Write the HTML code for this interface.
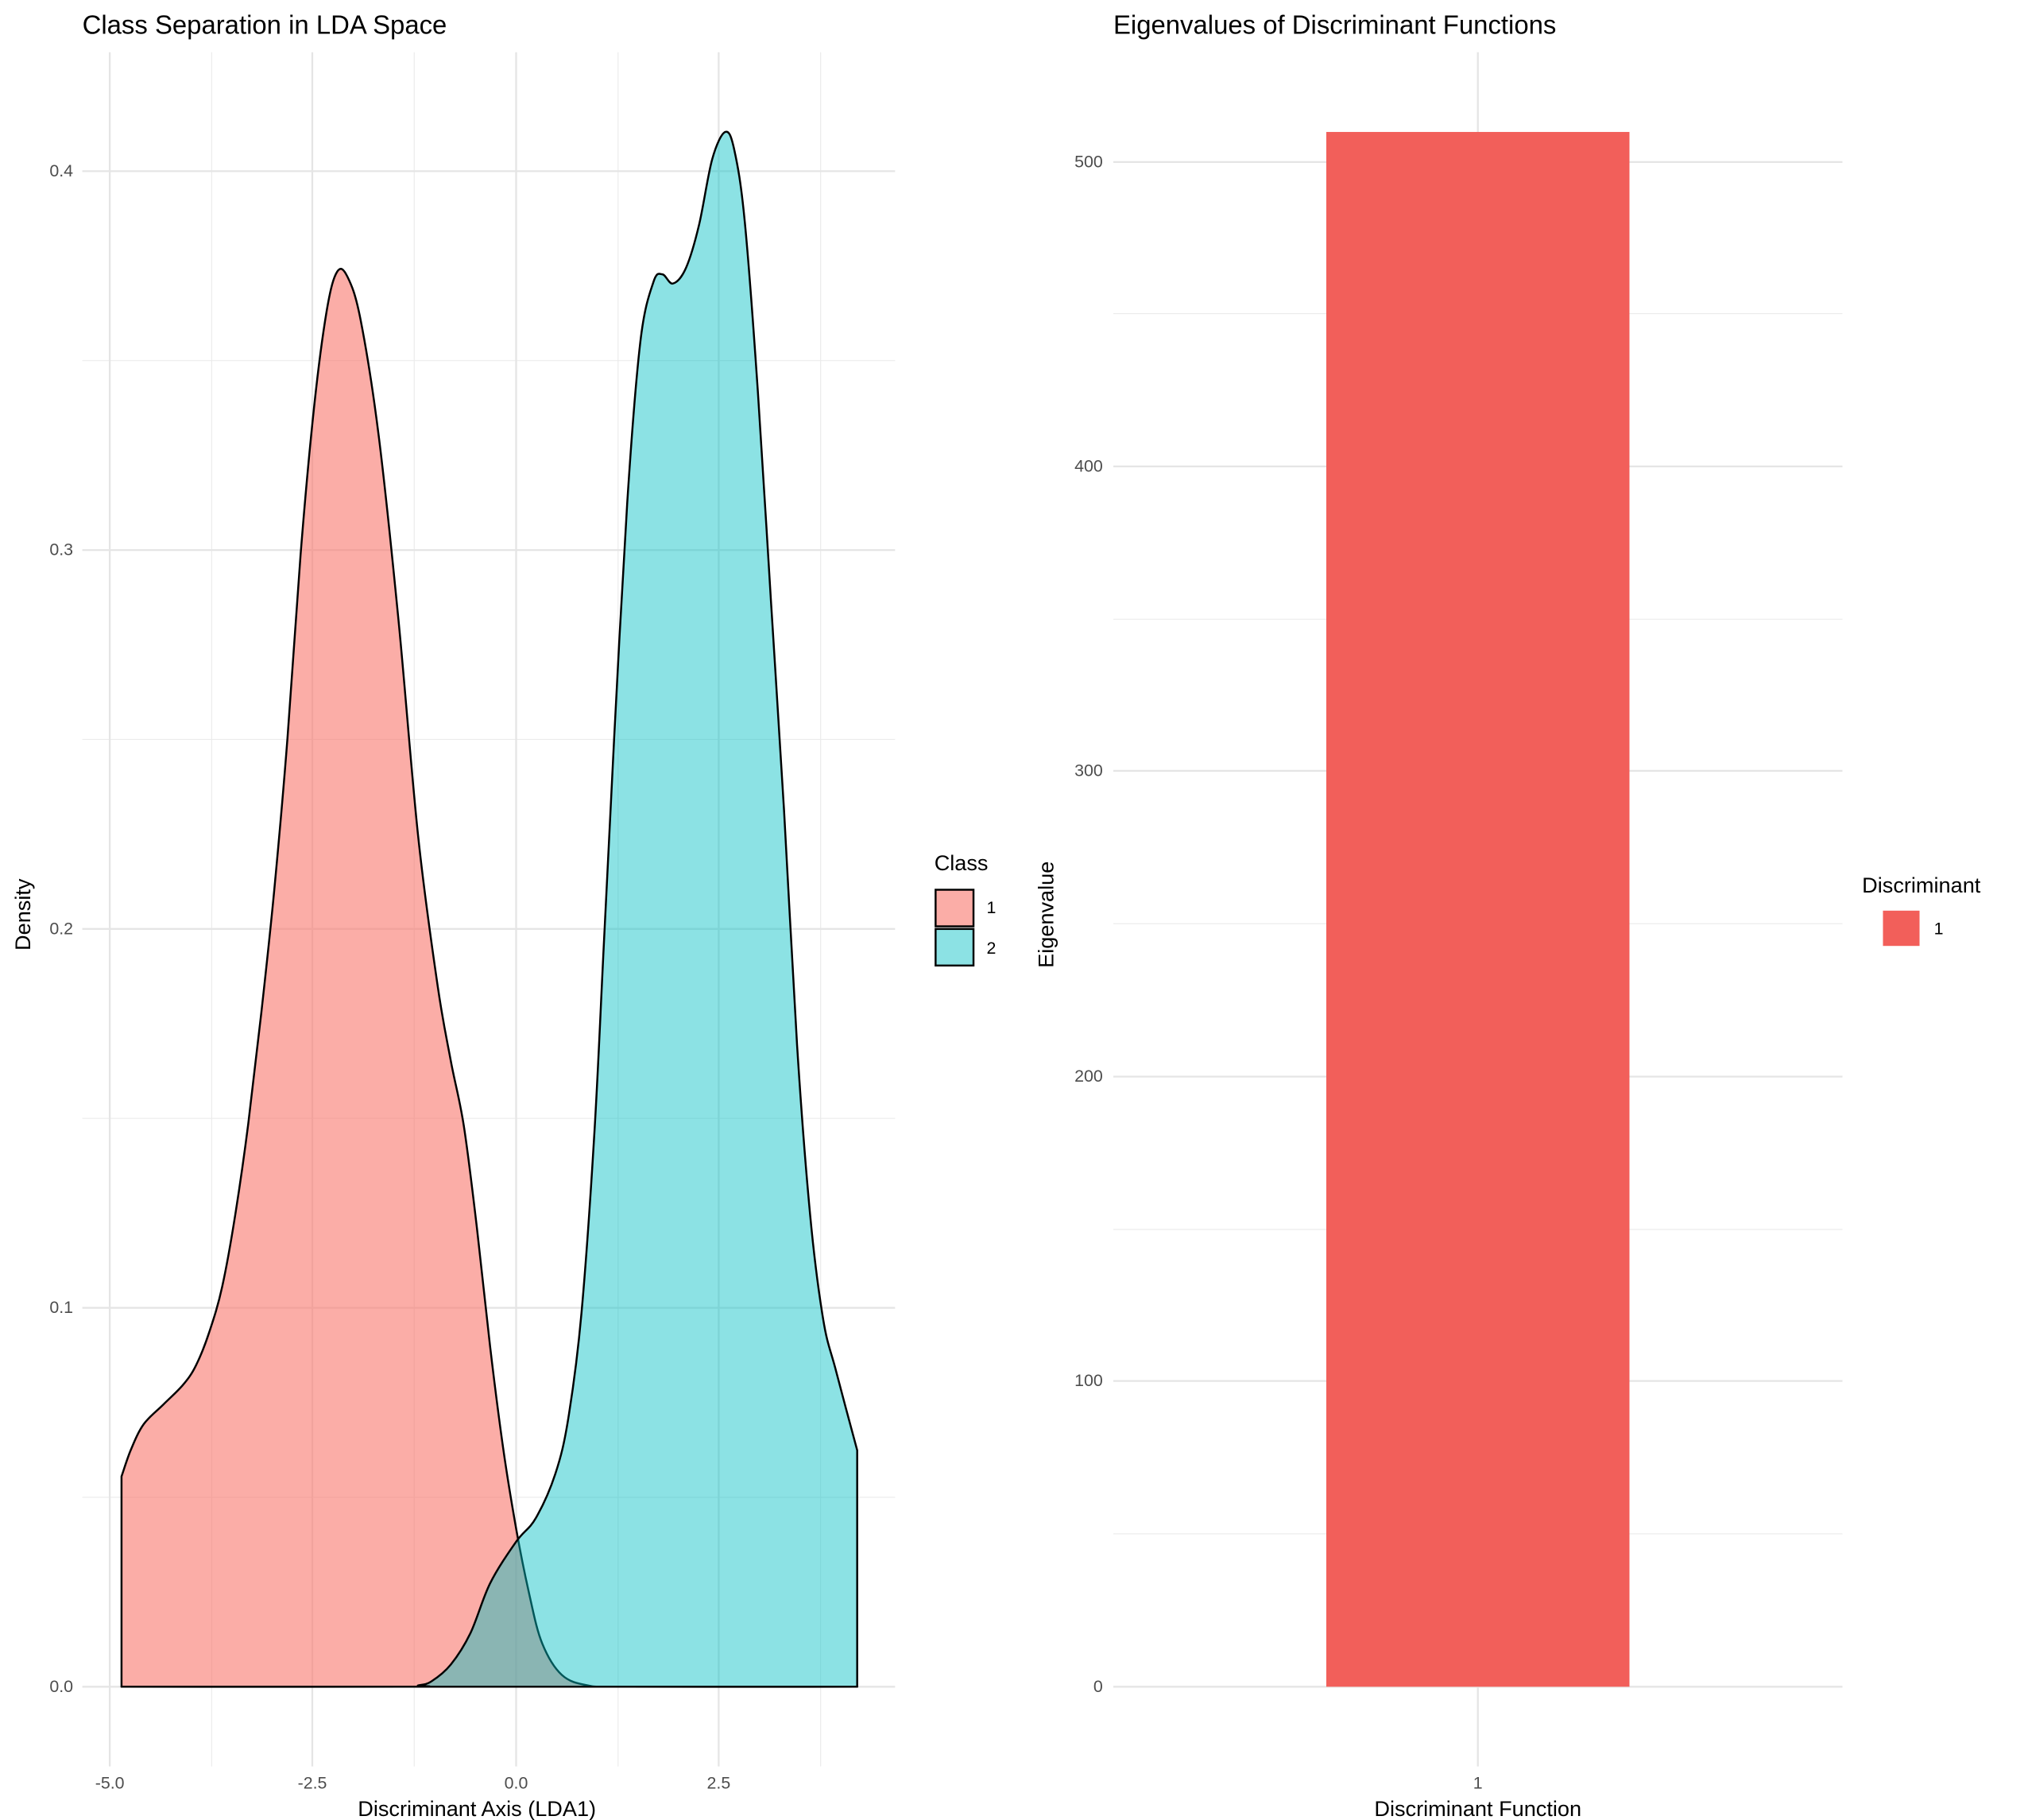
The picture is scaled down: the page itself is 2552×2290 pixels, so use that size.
<!DOCTYPE html>
<html><head><meta charset="utf-8"><style>
html,body{margin:0;padding:0;background:#fff}
svg{display:block}
text{font-family:"Liberation Sans",Arial,sans-serif}
</style></head><body>
<svg width="2552" height="2290" viewBox="0 0 1552 1393" preserveAspectRatio="none" xmlns="http://www.w3.org/2000/svg">
<rect width="1552" height="1393" fill="#fff"/>
<g stroke="#ebebeb" stroke-width="0.7">
<line x1="63" x2="685" y1="1146" y2="1146"/><line x1="63" x2="685" y1="856" y2="856"/>
<line x1="63" x2="685" y1="566" y2="566"/><line x1="63" x2="685" y1="276" y2="276"/>
<line x1="162" x2="162" y1="40" y2="1352"/><line x1="317" x2="317" y1="40" y2="1352"/>
<line x1="473" x2="473" y1="40" y2="1352"/><line x1="628" x2="628" y1="40" y2="1352"/>
</g>
<g stroke="#e5e5e5" stroke-width="1.4">
<line x1="63" x2="685" y1="1291" y2="1291"/><line x1="63" x2="685" y1="1001" y2="1001"/>
<line x1="63" x2="685" y1="711" y2="711"/><line x1="63" x2="685" y1="421" y2="421"/>
<line x1="63" x2="685" y1="131" y2="131"/>
<line x1="84" x2="84" y1="40" y2="1352"/><line x1="239" x2="239" y1="40" y2="1352"/>
<line x1="395" x2="395" y1="40" y2="1352"/><line x1="550" x2="550" y1="40" y2="1352"/>
</g>
<path id="c1" fill="#F8766D" fill-opacity="0.6" stroke="#000" stroke-width="1.5" stroke-linejoin="round" d=""/>
<path id="c2" fill="#00BFC4" fill-opacity="0.45" stroke="#000" stroke-width="1.5" stroke-linejoin="round" d=""/>
<g font-size="13" fill="#4d4d4d" text-anchor="end">
<text x="56" y="1295">0.0</text><text x="56" y="1005">0.1</text><text x="56" y="715">0.2</text><text x="56" y="425">0.3</text><text x="56" y="135">0.4</text>
</g>
<g font-size="13" fill="#4d4d4d" text-anchor="middle">
<text x="84" y="1369">-5.0</text><text x="239" y="1369">-2.5</text><text x="395" y="1369">0.0</text><text x="550" y="1369">2.5</text>
</g>
<text x="365" y="1390" font-size="16.5" text-anchor="middle" fill="#000">Discriminant Axis (LDA1)</text>
<text transform="translate(23,700) rotate(-90)" font-size="16.5" text-anchor="middle" fill="#000">Density</text>
<text x="63" y="26" font-size="20" fill="#000">Class Separation in LDA Space</text>
<text x="715" y="666" font-size="16.5" fill="#000">Class</text>
<rect x="716" y="681" width="29" height="28" fill="#F8766D" fill-opacity="0.6" stroke="#000" stroke-width="1.5"/>
<rect x="716" y="711" width="29" height="28" fill="#00BFC4" fill-opacity="0.45" stroke="#000" stroke-width="1.5"/>
<text x="755" y="699" font-size="13" fill="#000">1</text>
<text x="755" y="730" font-size="13" fill="#000">2</text>
<g stroke="#ebebeb" stroke-width="0.7">
<line x1="852" x2="1410" y1="1174" y2="1174"/><line x1="852" x2="1410" y1="941" y2="941"/>
<line x1="852" x2="1410" y1="707" y2="707"/><line x1="852" x2="1410" y1="474" y2="474"/>
<line x1="852" x2="1410" y1="240" y2="240"/>
</g>
<g stroke="#e5e5e5" stroke-width="1.4">
<line x1="852" x2="1410" y1="1291" y2="1291"/><line x1="852" x2="1410" y1="1057" y2="1057"/>
<line x1="852" x2="1410" y1="824" y2="824"/><line x1="852" x2="1410" y1="590" y2="590"/>
<line x1="852" x2="1410" y1="357" y2="357"/><line x1="852" x2="1410" y1="124" y2="124"/>
<line x1="1131" x2="1131" y1="40" y2="1352"/>
</g>
<rect x="1015" y="101" width="232" height="1190" fill="#F25F5A"/>
<g font-size="13" fill="#4d4d4d" text-anchor="end">
<text x="844" y="1295">0</text><text x="844" y="1061">100</text><text x="844" y="828">200</text><text x="844" y="594">300</text><text x="844" y="361">400</text><text x="844" y="128">500</text>
</g>
<text x="1131" y="1369" font-size="13" fill="#4d4d4d" text-anchor="middle">1</text>
<text x="1131" y="1390" font-size="16.5" text-anchor="middle" fill="#000">Discriminant Function</text>
<text transform="translate(806,700) rotate(-90)" font-size="16.5" text-anchor="middle" fill="#000">Eigenvalue</text>
<text x="852" y="26" font-size="20" fill="#000">Eigenvalues of Discriminant Functions</text>
<text x="1425" y="683" font-size="16.5" fill="#000">Discriminant</text>
<rect x="1441" y="697" width="28" height="27" fill="#F25F5A"/>
<text x="1480" y="715" font-size="13" fill="#000">1</text>
</svg>
<script>
function smooth(pts){
  var d="M"+pts[0][0]+","+pts[0][1];
  for(var i=0;i<pts.length-1;i++){
    var p0=pts[i-1]||pts[i],p1=pts[i],p2=pts[i+1],p3=pts[i+2]||p2;
    var c1x=p1[0]+(p2[0]-p0[0])/6,c1y=p1[1]+(p2[1]-p0[1])/6;
    var c2x=p2[0]-(p3[0]-p1[0])/6,c2y=p2[1]-(p3[1]-p1[1])/6;
    d+=" C"+c1x.toFixed(1)+","+c1y.toFixed(1)+" "+c2x.toFixed(1)+","+c2y.toFixed(1)+" "+p2[0]+","+p2[1];
  }
  return d;
}
var a=[[93,1130],[100,1110],[110,1090],[125,1075],[140,1060],[150,1045],[160,1020],[170,985],[180,930],[190,860],[200,775],[210,680],[220,565],[230,425],[240,315],[250,238],[258,208],[266,212],[276,245],[290,335],[305,475],[320,640],[335,755],[345,812],[355,862],[365,940],[375,1030],[385,1108],[395,1170],[405,1220],[415,1258],[430,1282],[450,1290],[480,1291],[656,1291]];
document.getElementById("c1").setAttribute("d","M93,1291 L"+smooth(a).slice(1)+" Z");
var b=[[93,1291],[310,1291],[320,1290],[330,1287],[345,1274],[360,1250],[375,1212],[395,1180],[410,1162],[425,1128],[435,1085],[445,1005],[455,865],[462,725],[470,565],[480,385],[490,262],[500,216],[507,210],[515,217],[525,205],[535,172],[545,122],[555,101],[562,115],[570,170],[580,300],[590,460],[600,620],[610,800],[620,930],[630,1010],[640,1050],[656,1110]];
document.getElementById("c2").setAttribute("d",smooth(b)+" L656,1291 Z");
</script>
</body></html>
